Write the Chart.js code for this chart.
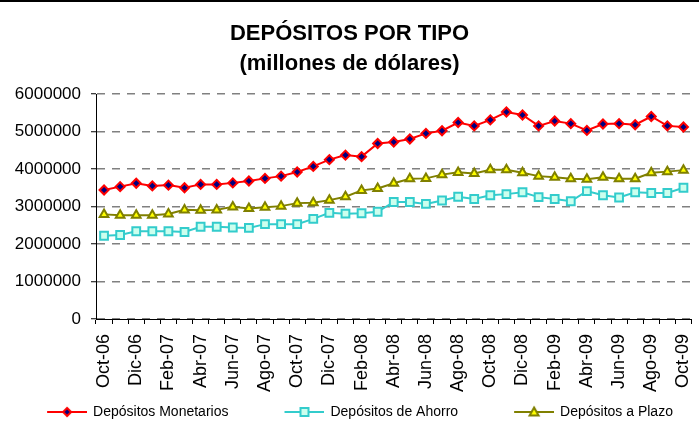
<!DOCTYPE html>
<html>
<head>
<meta charset="utf-8">
<script src="https://cdn.jsdelivr.net/npm/chart.js@4"></script>
<style>
  html, body { margin: 0; padding: 0; background: #fff; }
  #wrap { width: 699px; height: 434px; }
</style>
</head>
<body>
<div id="wrap"><canvas id="depositsChart" width="699" height="434"></canvas></div>
<script>
// Monthly categories, Oct-06 .. Oct-09
const months = ['Oct-06', 'Nov-06', 'Dic-06', 'Ene-07', 'Feb-07', 'Mar-07', 'Abr-07', 'May-07', 'Jun-07', 'Jul-07',
    'Ago-07', 'Sep-07', 'Oct-07', 'Nov-07', 'Dic-07', 'Ene-08', 'Feb-08', 'Mar-08', 'Abr-08', 'May-08',
    'Jun-08', 'Jul-08', 'Ago-08', 'Sep-08', 'Oct-08', 'Nov-08', 'Dic-08', 'Ene-09', 'Feb-09', 'Mar-09',
    'Abr-09', 'May-09', 'Jun-09', 'Jul-09', 'Ago-09', 'Sep-09', 'Oct-09'];

const monetarios = [3440000, 3530000, 3620000, 3550000, 3570000, 3500000, 3590000, 3590000, 3630000, 3680000,
    3750000, 3810000, 3920000, 4070000, 4250000, 4370000, 4330000, 4680000, 4720000, 4800000,
    4950000, 5020000, 5240000, 5150000, 5310000, 5520000, 5440000, 5150000, 5280000, 5210000,
    5030000, 5200000, 5210000, 5180000, 5400000, 5150000, 5120000];

const ahorro = [2220000, 2240000, 2340000, 2340000, 2340000, 2320000, 2460000, 2460000, 2440000, 2430000,
    2530000, 2530000, 2530000, 2670000, 2830000, 2810000, 2820000, 2860000, 3120000, 3120000,
    3070000, 3160000, 3260000, 3200000, 3300000, 3330000, 3380000, 3250000, 3200000, 3140000,
    3410000, 3300000, 3240000, 3380000, 3360000, 3360000, 3500000];

const plazo = [2790000, 2770000, 2770000, 2770000, 2800000, 2910000, 2900000, 2910000, 2990000, 2950000,
    2980000, 3010000, 3090000, 3100000, 3170000, 3260000, 3430000, 3480000, 3620000, 3740000,
    3750000, 3850000, 3910000, 3880000, 3980000, 3980000, 3900000, 3810000, 3780000, 3740000,
    3730000, 3780000, 3740000, 3740000, 3900000, 3930000, 3970000];

const seriesNames = ['Depósitos Monetarios', 'Depósitos de Ahorro', 'Depósitos a Plazo'];
const yTicks = [0, 1000000, 2000000, 3000000, 4000000, 5000000, 6000000];

Chart.defaults.font.family = '"Liberation Sans", Arial, sans-serif';
Chart.defaults.color = '#000';

// little legend swatch: a line with the marker in its middle (blank on the left = gap between items)
function legendSwatch(lineColor, drawMarker) {
    const c = document.createElement('canvas');
    c.width = 87;
    c.height = 14;
    const g = c.getContext('2d');
    g.strokeStyle = lineColor;
    g.lineWidth = 2;
    g.beginPath();
    g.moveTo(47, 7);
    g.lineTo(87, 7);
    g.stroke();
    drawMarker(g, 67, 7);
    return c;
}

const redSwatch = legendSwatch('#ff0000', (g, x, y) => {
    g.fillStyle = '#000080';
    g.strokeStyle = '#ff0000';
    g.lineWidth = 2;
    g.beginPath();
    g.moveTo(x, y - 4); g.lineTo(x + 4, y); g.lineTo(x, y + 4); g.lineTo(x - 4, y);
    g.closePath();
    g.fill(); g.stroke();
});
const cyanSwatch = legendSwatch('#33cccc', (g, x, y) => {
    g.fillStyle = '#ccffee';
    g.strokeStyle = '#33cccc';
    g.lineWidth = 2;
    g.fillRect(x - 4, y - 4, 8, 8);
    g.strokeRect(x - 4, y - 4, 8, 8);
});
const oliveSwatch = legendSwatch('#808000', (g, x, y) => {
    g.fillStyle = '#ffff00';
    g.strokeStyle = '#808000';
    g.lineWidth = 2;
    g.beginPath();
    g.moveTo(x, y - 4.5); g.lineTo(x + 4.5, y + 3.5); g.lineTo(x - 4.5, y + 3.5);
    g.closePath();
    g.fill(); g.stroke();
});
const swatches = [redSwatch, cyanSwatch, oliveSwatch];

// black rule across the top of the picture + legend nudged left
const framePlugin = {
    id: 'frame',
    afterLayout(chart) {
        chart.legend.left = -25;
        chart.legend.right = 699;
    },
    beforeDraw(chart) {
        const c = chart.ctx;
        c.save();
        c.fillStyle = '#fff';
        c.fillRect(0, 0, chart.width, chart.height);
        c.fillStyle = '#000';
        c.fillRect(0, 0, chart.width, 2);
        c.restore();
    }
};

const ctx = document.getElementById('depositsChart').getContext('2d');
const depositsChart = new Chart(ctx, {
    type: 'line',
    data: {
        labels: months,
        datasets: [{
            label: seriesNames[0],
            data: monetarios,
            borderColor: '#ff0000',
            borderWidth: 2,
            pointStyle: 'rectRot',
            pointRadius: 4.5,
            pointBorderWidth: 2,
            pointBackgroundColor: '#000080',
            pointBorderColor: '#ff0000',
            tension: 0
        }, {
            label: seriesNames[1],
            data: ahorro,
            borderColor: '#33cccc',
            borderWidth: 2,
            pointStyle: 'rect',
            pointRadius: 5.5,
            pointBorderWidth: 2,
            pointBackgroundColor: '#ccffee',
            pointBorderColor: '#33cccc',
            tension: 0
        }, {
            label: seriesNames[2],
            data: plazo,
            borderColor: '#808000',
            borderWidth: 2,
            pointStyle: 'triangle',
            pointRadius: 5,
            pointBorderWidth: 2,
            pointBackgroundColor: '#ffff00',
            pointBorderColor: '#808000',
            tension: 0
        }]
    },
    options: {
        responsive: false,
        animation: false,
        events: [],
        layout: {
            padding: { left: 0, right: 0, top: 0, bottom: 5 }
        },
        scales: {
            x: {
                offset: true,
                grid: {
                    offset: true,
                    drawOnChartArea: false,
                    tickLength: 5,
                    tickColor: '#000',
                    tickWidth: 1
                },
                border: { color: '#000', width: 1 },
                ticks: {
                    autoSkip: false,
                    minRotation: 90,
                    maxRotation: 90,
                    padding: 10,
                    font: { size: 18 },
                    callback: function(value, index) {
                        return index % 2 === 0 ? months[index] : '';
                    }
                },
                afterFit: function(scale) {
                    scale.height = 76;
                    // labels may hang over the plot edges, no extra side room
                    scale.paddingLeft = 0;
                    scale.paddingRight = 0;
                }
            },
            y: {
                min: yTicks[0],
                max: yTicks[yTicks.length - 1],
                afterBuildTicks: function(scale) {
                    scale.ticks = yTicks.map(v => ({ value: v }));
                },
                grid: {
                    color: '#808080',
                    lineWidth: 1.5,
                    tickLength: 5,
                    tickColor: '#000',
                    tickWidth: 1,
                    tickBorderDash: []
                },
                border: { color: '#000', width: 1, dash: [8, 7] },
                ticks: {
                    padding: 10,
                    font: { size: 17 },
                    callback: function(value) {
                        return String(value);
                    }
                },
                afterFit: function(scale) {
                    scale.width = 96;
                }
            },
            // empty right-hand axis, only keeps a small margin right of the plot
            yRight: {
                position: 'right',
                grid: { display: false },
                border: { display: false },
                ticks: { display: false },
                afterFit: function(scale) {
                    scale.width = 6;
                }
            }
        },
        plugins: {
            title: {
                display: true,
                text: ['DEPÓSITOS POR TIPO', '(millones de dólares)'],
                font: { size: 22, weight: 'bold', lineHeight: 30 / 22 },
                padding: { top: 19, bottom: 15 },
                color: '#000'
            },
            legend: {
                position: 'bottom',
                labels: {
                    usePointStyle: true,
                    pointStyleWidth: 85,
                    padding: 10,
                    font: { size: 14 },
                    color: '#000',
                    generateLabels: function(chart) {
                        return chart.data.datasets.map((ds, i) => ({
                            text: ds.label,
                            datasetIndex: i,
                            pointStyle: swatches[i],
                            fillStyle: ds.borderColor,
                            strokeStyle: ds.borderColor,
                            lineWidth: 0,
                            hidden: false
                        }));
                    }
                }
            },
            tooltip: { enabled: false }
        }
    },
    plugins: [framePlugin]
});
</script>
</body>
</html>
